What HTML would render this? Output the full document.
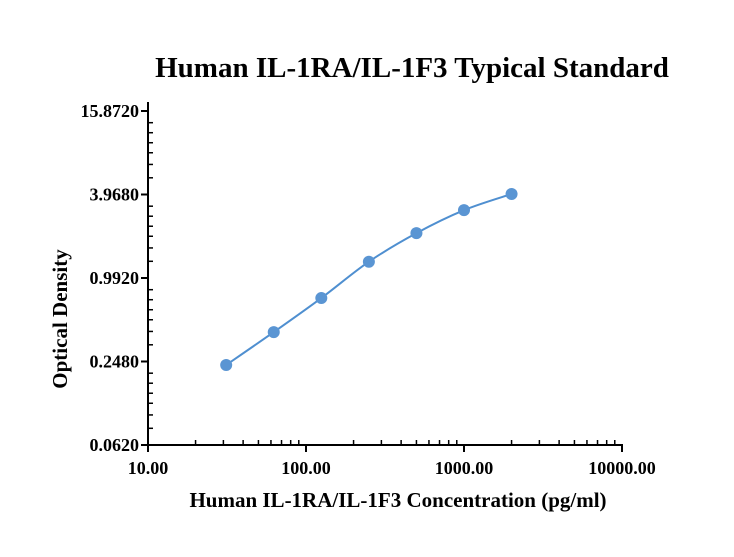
<!DOCTYPE html>
<html><head><meta charset="utf-8"><style>
body{margin:0;background:#fff}
svg{display:block;font-family:"Liberation Serif",serif;font-weight:bold}
</style></head><body>
<svg id="chart" width="734" height="557" viewBox="0 0 734 557">
<text x="412" y="77" font-size="29" text-anchor="middle">Human IL-1RA/IL-1F3 Typical Standard</text>
<text x="398" y="507" font-size="21" text-anchor="middle">Human IL-1RA/IL-1F3 Concentration (pg/ml)</text>
<text transform="translate(67,319) rotate(-90)" font-size="21" text-anchor="middle">Optical Density</text>
<g id="axes"></g>
<g id="series"></g>
</svg>
<script>
const xTicks=[10,100,1000,10000];
const xTickLabels=["10.00","100.00","1000.00","10000.00"];
const yTicks=[0.062,0.248,0.992,3.968,15.872];
const yTickLabels=["0.0620","0.2480","0.9920","3.9680","15.8720"];
const concentrations=[31.25,62.5,125,250,500,1000,2000];
const odValues=[0.234,0.404,0.711,1.30,2.09,3.06,4.00];
const NS="http://www.w3.org/2000/svg";
const X0=148,XD=158,Y0=445,YD=83.5;
function xs(v){return X0+XD*Math.log10(v/10);}
function ys(v){return Y0-YD*Math.log(v/0.062)/Math.log(4);}
function mk(t,a,p){const e=document.createElementNS(NS,t);for(const k in a)e.setAttribute(k,a[k]);p.appendChild(e);return e;}
const ax=document.getElementById('axes'),se=document.getElementById('series');
let l=mk('line',{x1:X0,y1:Y0,x2:623,y2:Y0,stroke:'#000','stroke-width':2},ax);


l=mk('line',{x1:X0,y1:Y0+1,x2:X0,y2:102,stroke:'#000','stroke-width':2},ax);


xTicks.forEach((v,i)=>{const x=xs(v);
 let t=mk('line',{x1:x,y1:Y0,x2:x,y2:Y0+7,stroke:'#000','stroke-width':2},ax);
 
 
 let tx=mk('text',{x:x,y:Y0+29,'font-size':18,'text-anchor':'middle'},ax);tx.textContent=xTickLabels[i];
 
 
 if(i<xTicks.length-1)for(let k=2;k<10;k++){const mx=xs(v*k);
  let m=mk('line',{x1:mx,y1:Y0,x2:mx,y2:Y0-5,stroke:'#000','stroke-width':1.5},ax);
  
  }
});
const fr=[.2,.36,.5,.62,.74,.86];
yTicks.forEach((v,i)=>{const y=ys(v);
 let t=mk('line',{x1:X0-7,y1:y,x2:X0,y2:y,stroke:'#000','stroke-width':2},ax);
 
 
 let tx=mk('text',{x:X0-9,y:y+6,'font-size':18,'text-anchor':'end'},ax);tx.textContent=yTickLabels[i];
 
 
 if(i<yTicks.length-1)fr.forEach(f=>{const my=y-f*YD;
  let m=mk('line',{x1:X0,y1:my,x2:X0+5,y2:my,stroke:'#000','stroke-width':1.5},ax);
  
  });
});
const P=concentrations.map((c,i)=>[xs(c),ys(odValues[i])]);
let d='M'+P[0][0]+','+P[0][1];
for(let i=0;i<P.length-1;i++){const p0=P[Math.max(0,i-1)],p1=P[i],p2=P[i+1],p3=P[Math.min(P.length-1,i+2)];
 d+=' C'+(p1[0]+(p2[0]-p0[0])/6)+','+(p1[1]+(p2[1]-p0[1])/6)+' '+(p2[0]-(p3[0]-p1[0])/6)+','+(p2[1]-(p3[1]-p1[1])/6)+' '+p2[0]+','+p2[1];}
let path=mk('path',{d:d,fill:'none',stroke:'#4f8fd0','stroke-width':2},se);


P.forEach(p=>{let c=mk('circle',{cx:p[0],cy:p[1],r:6,fill:'#5a95d3'},se);
 
 });
</script>
</body></html>
